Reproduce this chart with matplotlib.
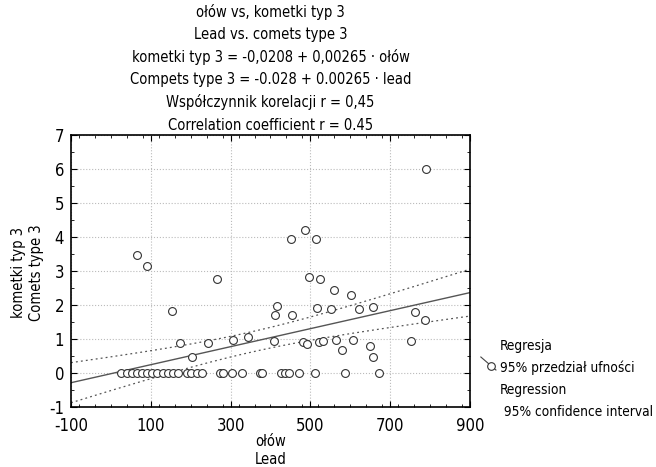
import numpy as np
import matplotlib.pyplot as plt
from matplotlib.lines import Line2D
from matplotlib.ticker import MultipleLocator

plt.rcParams['font.family'] = ['DejaVu Sans']
plt.rcParams['font.stretch'] = 'condensed'
plt.rcParams['axes.unicode_minus'] = False

# ołów (lead) vs kometki typ 3 (comets type 3)
lead = [25, 40, 52, 66, 79, 90, 102, 115, 131, 144, 156, 169, 190, 202, 215, 228,
        273, 282, 304, 329, 374, 379, 426, 436, 447, 472, 512, 588, 673,
        152, 173, 204, 243, 305, 344, 411, 416, 410, 454, 481, 491, 516, 521, 532,
        552, 559, 564, 579, 602, 608, 621, 650, 656, 658, 752, 761, 787,
        66, 91, 267, 451, 486, 514, 496, 525, 790]
comets = [0, 0, 0, 0, 0, 0, 0, 0, 0, 0, 0, 0, 0, 0, 0, 0,
          0, 0, 0, 0, 0, 0, 0, 0, 0, 0, 0, 0, 0,
          1.83, 0.88, 0.46, 0.88, 0.96, 1.05, 1.70, 1.98, 0.93, 1.72, 0.92, 0.85, 1.91, 0.91, 0.93,
          1.89, 2.45, 0.98, 0.68, 2.30, 0.97, 1.89, 0.79, 1.95, 0.47, 0.95, 1.79, 1.56,
          3.47, 3.16, 2.76, 3.94, 4.21, 3.94, 2.82, 2.76, 6.01]

# regression line from the chart header
b0, b1 = -0.0208, 0.00265
# confidence band as drawn: half^2 = ci_a + ci_c * (x - ci_xm)^2
ci_xm, ci_a, ci_c = 350, 0.089, 1.28e-6

title_lines = ['ołów vs, kometki typ 3',
               'Lead vs. comets type 3',
               'kometki typ 3 = -0,0208 + 0,00265 · ołów',
               'Compets type 3 = -0.028 + 0.00265 · lead',
               'Współczynnik korelacji r = 0,45',
               'Correlation coefficient r = 0.45']
legend_lines = ['Regresja', '95% przedział ufności', 'Regression', ' 95% confidence interval']

xs = np.linspace(-100, 900, 200)
fit = b0 + b1 * xs
half = np.sqrt(ci_a + ci_c * (xs - ci_xm) ** 2)

fig = plt.figure(figsize=(6.56, 4.67), dpi=100)
ax = fig.add_axes([0.1082, 0.1285, 0.6082, 0.5824])

ax.plot(xs, fit, color='#555555', lw=1.0)
ax.plot(xs, fit + half, color='#555555', lw=0.9, ls=(0, (1.5, 2.5)))
ax.plot(xs, fit - half, color='#555555', lw=0.9, ls=(0, (1.5, 2.5)))
ax.scatter(lead, comets, s=32, facecolors='white', edgecolors='#333333', linewidths=0.8, zorder=3)

ax.set_xlim(-100, 900)
ax.set_ylim(-1, 7)
ax.set_xticks([-100, 100, 300, 500, 700, 900])
ax.set_yticks(range(-1, 8))
ax.xaxis.set_minor_locator(MultipleLocator(40))
ax.yaxis.set_minor_locator(MultipleLocator(0.5))
ax.tick_params(which='both', direction='in', top=True, right=True, labelsize=12)
ax.tick_params(axis='x', pad=7.5)
ax.tick_params(axis='y', pad=5)
ax.tick_params(which='major', length=4)
ax.tick_params(which='minor', length=2.5)
ax.grid(True, which='major', color='#bbbbbb', ls=':', lw=0.8)
for s in ax.spines.values():
    s.set_linewidth(1.2)

fs = 10.5
for i, t in enumerate(title_lines):
    fig.text(0.4124, 1 - (12 + i * 22.6) / 467, t, fontsize=fs, ha='center', va='center')
fig.text(0.4124, 1 - 441 / 467, 'ołów', fontsize=fs, ha='center', va='center')
fig.text(0.4124, 1 - 460 / 467, 'Lead', fontsize=fs, ha='center', va='center')
fig.text(19 / 656, 0.417, 'kometki typ 3', fontsize=fs, ha='center', va='center', rotation=90)
fig.text(37 / 656, 0.417, 'Comets type 3', fontsize=fs, ha='center', va='center', rotation=90)

# legend drawn by hand at the right of the plot
for i, t in enumerate(legend_lines):
    fig.text(0.762, 1 - (346 + i * 22) / 467, t, fontsize=9.8, va='center')
fig.add_artist(Line2D([0.733, 0.756], [1 - 357 / 467, 1 - 370 / 467], color='#444444', lw=0.8,
                      transform=fig.transFigure))
fig.add_artist(Line2D([0.748], [1 - 365.5 / 467], marker='o', ms=5.5, mfc='white', mec='#333333',
                      mew=0.8, transform=fig.transFigure))

fig.savefig('out.png', dpi=100)
